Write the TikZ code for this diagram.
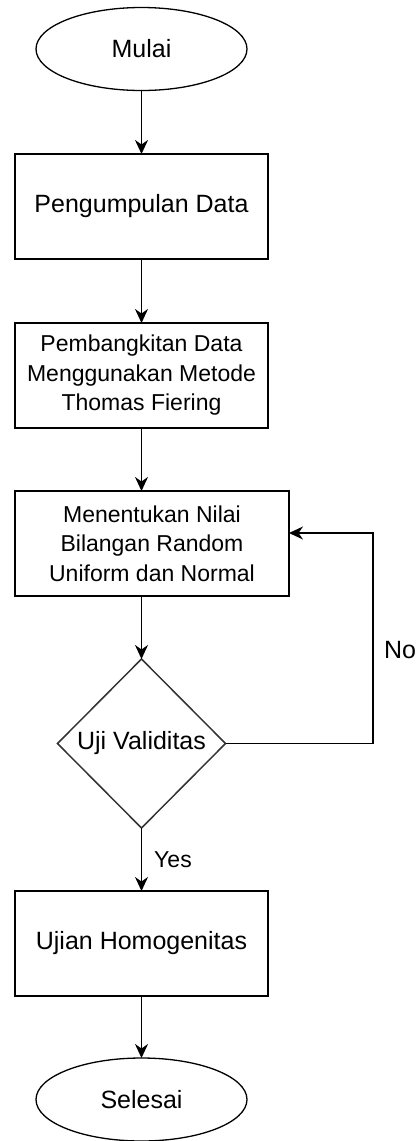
\documentclass[tikz,border=0pt]{standalone}
\usepackage{fontspec}
\setmainfont{Liberation Sans}
\usetikzlibrary{shapes.geometric,arrows.meta}
\begin{document}
\begin{tikzpicture}[x=1pt,y=-1pt,
  base/.style={draw=black,line width=1.9pt,inner sep=0pt,outer sep=0pt,align=center},
  bigtext/.style={font=\fontsize{25}{31}\selectfont},
  smalltext/.style={font=\fontsize{23}{29.5}\selectfont},
  procbox/.style={base,rectangle,minimum width=253pt,minimum height=105pt},
  term/.style={base,ellipse,line width=1.3pt,minimum width=211pt,minimum height=83pt,bigtext},
  decide/.style={base,diamond,line width=1.5pt,draw=black!80,minimum width=168pt,minimum height=169pt,aspect=1,bigtext},
  flow/.style={line width=1.8pt,-{Stealth[length=14pt,width=13pt,inset=4.5pt]}},
  lbl/.style={inner sep=0pt}
]
\useasboundingbox (0,0) rectangle (419,1141);
\node[term] (start) at (141.5,49) {Mulai};
\node[procbox,bigtext] (b1) at (141.5,206.5) {Pengumpulan Data};
\node[procbox,smalltext] (b2) at (141.5,375.5) {Pembangkitan Data\\Menggunakan Metode\\Thomas Fiering};
\node[procbox,smalltext,minimum width=274pt] (b3) at (152,543.5) {Menentukan Nilai\\Bilangan Random\\Uniform dan Normal};
\node[decide,minimum width=168pt,minimum height=169pt,inner sep=0pt] (d) at (141.5,743.5) {};
\node[bigtext,lbl] (dt) at (141.5,743.5) {Uji Validitas};
\node[procbox,bigtext] (b4) at (141.5,943.5) {Ujian Homogenitas};
\node[term] (end) at (141.5,1099.5) {Selesai};
\coordinate (c1) at (373,743.5);
\coordinate (c2) at (373,533);
\node[lbl,bigtext] (no) at (400,650) {No};
\node[lbl,smalltext] (yes) at (173,860) {Yes};
\draw[flow] (start) -- (b1);
\draw[flow] (b1) -- (b2);
\draw[flow] (b2) -- (b2.south |- b3.north);
\draw[flow] (d.north |- b3.south) -- (d.north);
\draw[flow] (d) -- (b4);
\draw[flow] (b4) -- (end);
\draw[flow] (d.east) -- (c1) -- (c2) -- (b3.east |- c2);
\end{tikzpicture}
\end{document}
